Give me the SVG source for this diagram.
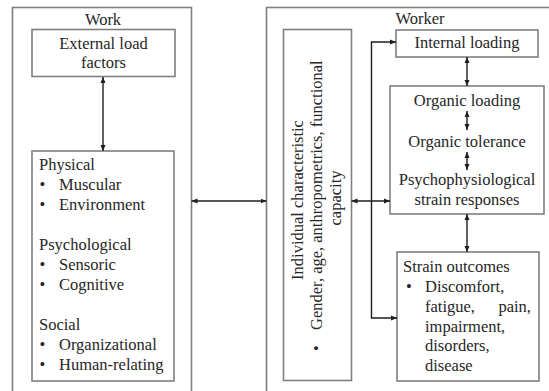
<svg xmlns="http://www.w3.org/2000/svg" width="549" height="391" viewBox="0 0 549 391">
<style>
.box{fill:#fff;stroke:#7f7f7f;stroke-width:1.6}
.t{font-family:"Liberation Serif","Times New Roman",serif;font-size:16.5px;fill:#262626}
.c{text-anchor:middle}
.e{text-anchor:end}
.ln{fill:none;stroke:#1f1f1f;stroke-width:1.4}
</style>
<defs>
<marker id="ah" markerUnits="userSpaceOnUse" markerWidth="6" markerHeight="6" refX="6" refY="3" orient="auto-start-reverse">
<path d="M0,0.5 L6,3 L0,5.5 z" fill="#1f1f1f"/>
</marker>
</defs>
<rect width="549" height="391" fill="#fff"/>

<g id="work">
<rect class="box" x="12.5" y="7.5" width="179" height="400"/>
<text class="t c" x="103" y="25">Work</text>
</g>
<g id="worker">
<rect class="box" x="266.5" y="7.5" width="300" height="400"/>
<text class="t c" x="420" y="24">Worker</text>
</g>

<g id="external">
<rect class="box" x="32" y="29.5" width="143" height="47"/>
<text class="t c" x="103.5" y="49">External load</text>
<text class="t c" x="103.5" y="68">factors</text>
</g>

<g id="factors">
<rect class="box" x="32" y="151" width="142" height="230"/>
<text class="t" x="39" y="170">Physical</text>
<text class="t" x="39.5" y="190">•</text><text class="t" x="59" y="190">Muscular</text>
<text class="t" x="39.5" y="210">•</text><text class="t" x="59" y="210">Environment</text>
<text class="t" x="39" y="250">Psychological</text>
<text class="t" x="39.5" y="270">•</text><text class="t" x="59" y="270">Sensoric</text>
<text class="t" x="39.5" y="290">•</text><text class="t" x="59" y="290">Cognitive</text>
<text class="t" x="39" y="330">Social</text>
<text class="t" x="39.5" y="350">•</text><text class="t" x="59" y="350">Organizational</text>
<text class="t" x="39.5" y="370">•</text><text class="t" x="59" y="370">Human-relating</text>
</g>

<g id="individual">
<rect class="box" x="283.5" y="29.5" width="68" height="351"/>
<text class="t c" transform="translate(303,200) rotate(-90)">Individual characteristic</text>
<text class="t" transform="translate(322,330) rotate(-90)">Gender, age, anthropometrics, functional</text>
<text class="t c" transform="translate(341,198) rotate(-90)">capacity</text>
<text class="t" transform="translate(322,351) rotate(-90)">•</text>
</g>

<g id="internal">
<rect class="box" x="396" y="30" width="142" height="27"/>
<text class="t c" x="467" y="48">Internal loading</text>
</g>

<g id="organic">
<rect class="box" x="390" y="86" width="154" height="128"/>
<text class="t c" x="467" y="106">Organic loading</text>
<text class="t c" x="467" y="146.5">Organic tolerance</text>
<text class="t c" x="467" y="185">Psychophysiological</text>
<text class="t c" x="467" y="205">strain responses</text>
</g>

<g id="strain">
<rect class="box" x="397" y="252" width="142" height="129"/>
<text class="t" x="403" y="271.5">Strain outcomes</text>
<text class="t" x="406" y="291.5">•</text>
<text class="t" x="425" y="291.5">Discomfort,</text>
<text class="t" x="425" y="311.5">fatigue,</text>
<text class="t e" x="531" y="311.5">pain,</text>
<text class="t" x="425" y="331.5">impairment,</text>
<text class="t" x="425" y="351">disorders,</text>
<text class="t" x="425" y="371">disease</text>
</g>

<g id="connectors">
<line class="ln" x1="103" y1="77" x2="103" y2="151" marker-start="url(#ah)" marker-end="url(#ah)"/>
<line class="ln" x1="191.5" y1="201" x2="266.5" y2="201" marker-start="url(#ah)" marker-end="url(#ah)"/>
<line class="ln" x1="351.5" y1="201" x2="390" y2="201" marker-start="url(#ah)" marker-end="url(#ah)"/>
<path class="ln" d="M396,42 H371.5 V318 H397" marker-start="url(#ah)" marker-end="url(#ah)"/>
<line class="ln" x1="467" y1="57" x2="467" y2="86" marker-start="url(#ah)" marker-end="url(#ah)"/>
<line class="ln" x1="467" y1="111" x2="467" y2="130" marker-start="url(#ah)" marker-end="url(#ah)"/>
<line class="ln" x1="467" y1="152" x2="467" y2="170" marker-start="url(#ah)" marker-end="url(#ah)"/>
<line class="ln" x1="467" y1="214" x2="467" y2="252" marker-start="url(#ah)" marker-end="url(#ah)"/>
</g>
</svg>
